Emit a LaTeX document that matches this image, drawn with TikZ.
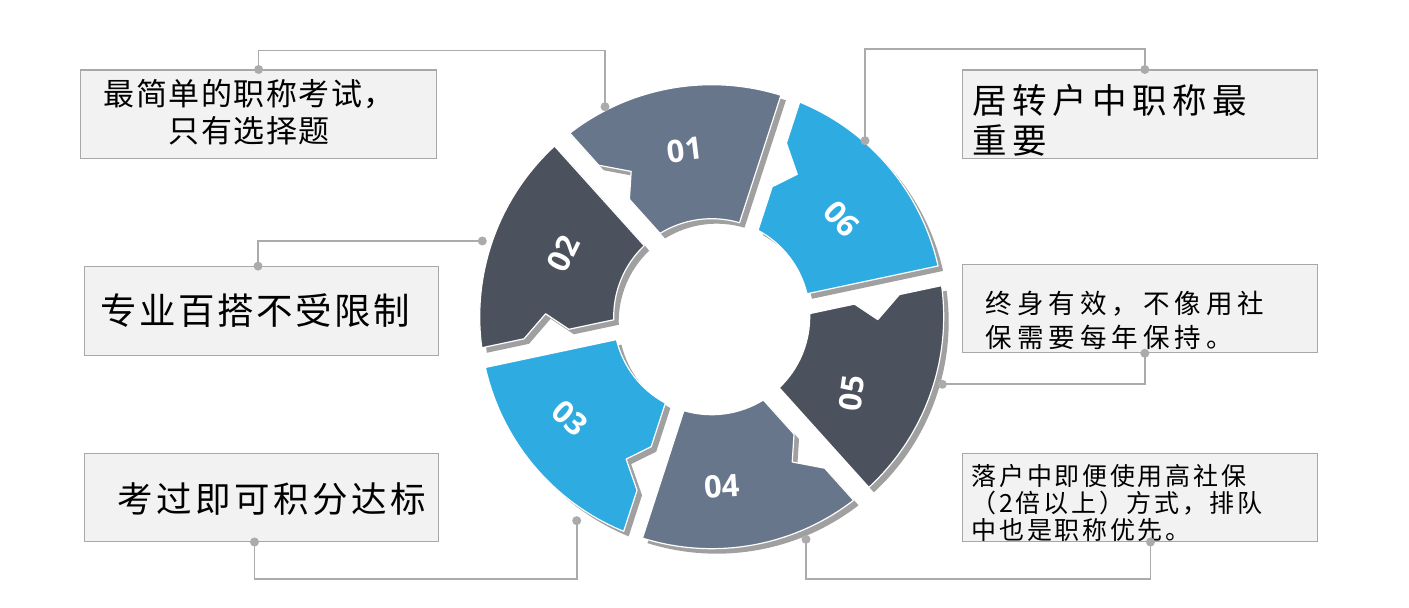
\documentclass[tikz,border=0pt]{standalone}
\usepackage{fontspec}
\usetikzlibrary{calc}
\newfontfamily\cjk{Noto Sans CJK SC}
\newfontfamily\numfont{Open Sans}
\definecolor{slate}{HTML}{67768A}
\definecolor{darkseg}{HTML}{4B525D}
\definecolor{sky}{HTML}{2EACE2}
\definecolor{shadowgray}{HTML}{A0A0A0}
\definecolor{boxfill}{HTML}{F2F2F2}
\definecolor{boxline}{HTML}{A8A8A8}
\definecolor{connc}{HTML}{ABABAB}
\def\trstop{\trstop}
\newcommand\tr[2]{\def\trk{#1}\trloop#2\trstop}
\def\trloop#1{\ifx#1\trstop\else#1\kern\trk\relax\expandafter\trloop\fi}
\newcommand\setseg[1]{%
  \coordinate (A) at ($(C)+({#1+55.7}:232pt)$);
  \coordinate (B) at ($(C)+({#1+49.8}:98pt)$);
  \coordinate (P1) at ($(A)!0.32!(B)$);
  \coordinate (P2) at ($(A)!0.66!(B)$);
  \coordinate (Q) at ($(A)!0.515!(B)!20pt!90:(B)$);
}
\tikzset{
  segpath/.style={insert path={($(C)+({#1+0.64}:232pt)$) arc[start angle={#1+0.64}, end angle={#1+55.7}, radius=232pt] -- (P1) -- (Q) -- (P2) -- (B) arc[start angle={#1+49.8}, end angle={#1+1.52}, radius=98pt] -- cycle}},
  segstyle/.style={draw=white, line width=1.2pt, line join=round},
  num/.style={text=white, font=\numfont\bfseries\fontsize{31}{31}\selectfont, inner sep=0pt},
  infobox/.style={draw=boxline, fill=boxfill, line width=1.2pt, inner sep=0pt, anchor=south west},
  conn/.style={draw=connc, line width=1.6pt},
  dot/.style={fill=connc, circle, inner sep=0pt, minimum size=9pt},
  txt/.style={inner sep=0pt, anchor=west, align=left, text=black}
}
\begin{document}
\begin{tikzpicture}[x=1pt,y=1pt]
\useasboundingbox (0,0) rectangle (1409,608);
\fill[white] (0,0) rectangle (1409,608);
\coordinate (C) at (711.7,291.3);
% shadows
\foreach \a in {12,72,132,192,252,312}{
  \setseg{\a}
  \begin{scope}[transform canvas={shift={(5pt,-5pt)}}]
    \fill[shadowgray, segpath=\a];
  \end{scope}
}
% segments
\foreach \a/\c in {12/sky,72/slate,132/darkseg,192/sky,252/slate,312/darkseg}{
  \setseg{\a}
  \fill[fill=\c, segstyle, segpath=\a];
}
% numbers
\node[num, rotate=7] (n1) at (685,458) {01};
\node[num, rotate=64] (n2) at (563.3,354.7) {02};
\node[num, rotate=-42] (n3) at (570,189.7) {03};
\node[num, rotate=4] (n4) at (721.7,121.3) {04};
\node[num, rotate=82] (n5) at (851.7,214.7) {05};
\node[num, rotate=-47] (n6) at (841.7,388.7) {06};
% boxes
\node[infobox, minimum width=356pt, minimum height=88.3pt] (b1) at (80,449) {};
\node[infobox, minimum width=354pt, minimum height=88.7pt] (b2) at (84,252) {};
\node[infobox, minimum width=354pt, minimum height=88pt] (b3) at (84,66) {};
\node[infobox, minimum width=355pt, minimum height=88.3pt] (b4) at (961.7,449) {};
\node[infobox, minimum width=355pt, minimum height=88.3pt] (b5) at (961.7,254.7) {};
\node[infobox, minimum width=355pt, minimum height=87.7pt] (b6) at (961.7,66) {};
% texts
\node[txt, anchor=center, align=center, font=\cjk\fontsize{31}{36.7}\selectfont] (t1) at (250,495.7) {\tr{1.5pt}{最简单的职称考试，}\\\tr{1.5pt}{只有选择题}};
\node[txt, font=\cjk\fontsize{36.5}{36.5}\selectfont] (t2) at (100.5,297.2) {\tr{2.5pt}{专业百搭不受限制}};
\node[txt, font=\cjk\fontsize{35.5}{35.5}\selectfont] (t3) at (117.5,109.3) {\tr{3.5pt}{考过即可积分达标}};
\node[txt, font=\cjk\fontsize{34.5}{40.7}\selectfont] (t4) at (972,487.6) {\tr{5.5pt}{居转户中职称最}\\\tr{5.5pt}{重要}};
\node[txt, font=\cjk\fontsize{26.5}{34}\selectfont] (t5) at (985.5,287.7) {\tr{5pt}{终身有效，不像用社}\\\tr{5pt}{保需要每年保持。}};
\node[txt, font=\cjk\fontsize{25}{27.1}\selectfont] (t6) at (971.5,104.7) {\tr{2.7pt}{落户中即便使用高社保}\\\tr{2.7pt}{（2倍以上）方式，排队}\\\tr{2.7pt}{中也是职称优先。}};
% connector end points
\coordinate (d1) at (605,501.3);
\coordinate (d2) at (482.3,367);
\coordinate (d3) at (576.7,87.3);
\coordinate (d4) at (806,68.7);
\coordinate (d5) at (942.3,223.7);
\coordinate (d6) at (865,467.3);
\coordinate (s1) at ($(b1.north west)!0.5!(b1.north east)$);
\coordinate (s2) at ($(b2.north west)!0.49!(b2.north east)$);
\coordinate (s3) at ($(b3.south west)!0.48!(b3.south east)$);
\coordinate (s4) at ($(b4.north west)!0.514!(b4.north east)$);
\coordinate (s5) at ($(b5.south west)!0.514!(b5.south east)$);
\coordinate (s6) at ($(b6.south west)!0.53!(b6.south east)$);
% connectors
\draw[conn] (s1) -- ++(0,19) -| (d1);
\draw[conn] (s2) |- (d2);
\draw[conn] (s3) -- ++(0,-37) -| (d3);
\draw[conn] (s4) -- ++(0,20.7) -| (d6);
\draw[conn] (s5) |- (d5);
\draw[conn] (s6) -- ++(0,-37.3) -| (d4);
\foreach \p in {s1,s2,s3,s4,s5,s6,d1,d2,d3,d4,d5,d6}{
  \node[dot] at (\p) {};
}
\end{tikzpicture}
\end{document}
